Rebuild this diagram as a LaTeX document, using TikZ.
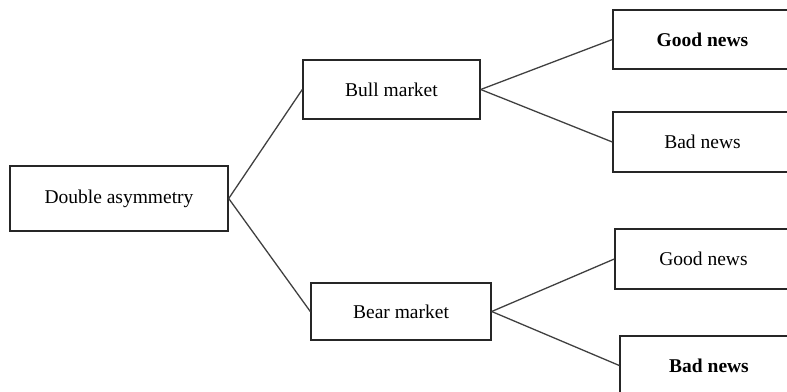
\documentclass[tikz,border=0pt]{standalone}
\usepackage{fontspec}
\setmainfont{Liberation Serif}
\usetikzlibrary{positioning}

\begin{document}
\begin{tikzpicture}[
        x=1pt, y=-1pt,
        treebox/.style={rectangle, draw=black!85, line width=1.4pt, fill=white, inner sep=0pt, font=\fontsize{19.5}{22}\selectfont},
        link/.style={line width=1.3pt, draw=black!75}
    ]

    \useasboundingbox (0,0) rectangle (787,391);

    % The Boxes
    \node (asym) [treebox, minimum width=218pt, minimum height=65pt] at (119,198.5) {Double asymmetry};

    \node (bull) [treebox, minimum width=177pt, minimum height=59pt] at (391.5,89.5) {Bull market};
    \node (bear) [treebox, minimum width=180pt, minimum height=57pt] at (401,311.5) {Bear market};

    \node (bullgood) [treebox, minimum width=179pt, minimum height=59pt] at (702.5,39.5) {\textbf{Good news}};
    \node (bullbad) [treebox, minimum width=179pt, minimum height=60pt] at (702.5,142) {Bad news};
    \node (beargood) [treebox, minimum width=177pt, minimum height=60pt] at (703.5,259) {Good news};
    \node (bearbad) [treebox, minimum width=178pt, minimum height=59pt] at (709,365.5) {\textbf{Bad news}};

    % The Branches
    \draw [link] (asym.east) -- (bull.west);
    \draw [link] (asym.east) -- (bear.west);
    \draw [link] (bull.east) -- (bullgood.west);
    \draw [link] (bull.east) -- (bullbad.west);
    \draw [link] (bear.east) -- (beargood.west);
    \draw [link] (bear.east) -- (bearbad.west);

    \end{tikzpicture}
\end{document}
